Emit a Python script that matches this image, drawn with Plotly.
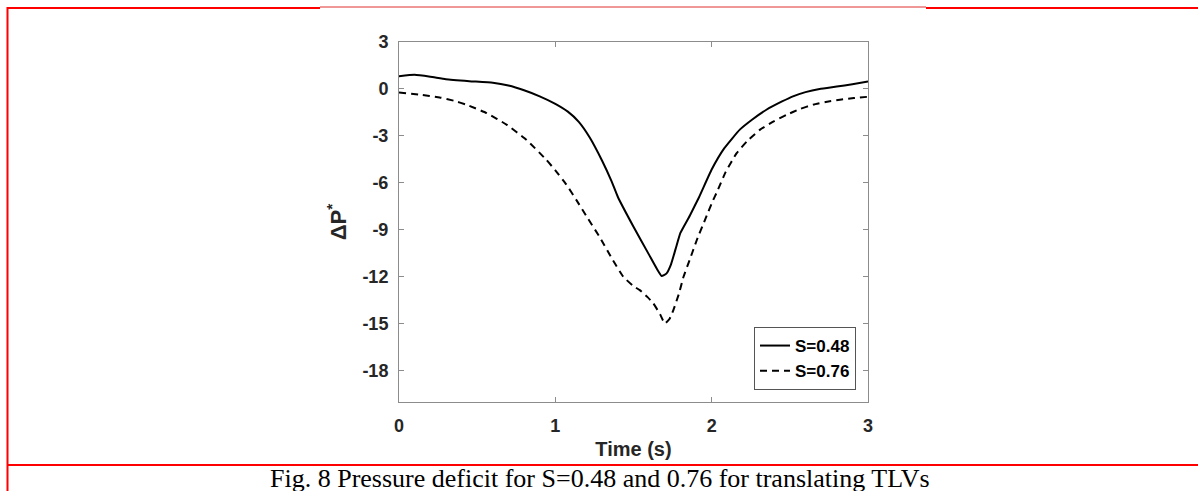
import plotly.graph_objects as go

# Pressure deficit time histories for two swirl numbers
time_s048 = [0.00, 0.10, 0.20, 0.30, 0.45, 0.60, 0.70, 0.80, 0.90, 1.00,
             1.08, 1.15, 1.22, 1.30, 1.36, 1.40, 1.50, 1.60, 1.65, 1.68,
             1.71, 1.74, 1.77, 1.80, 1.86, 1.92, 2.00, 2.08, 2.18, 2.26,
             2.35, 2.45, 2.52, 2.60, 2.69, 2.80, 2.90, 3.00]
dp_s048 = [0.81, 0.90, 0.78, 0.62, 0.50, 0.40, 0.22, -0.08, -0.47, -0.95,
           -1.45, -2.10, -3.10, -4.60, -5.90, -6.90, -8.80, -10.60, -11.50, -11.95,
           -11.80, -11.20, -10.20, -9.20, -8.10, -6.90, -5.15, -3.80, -2.60, -1.95,
           -1.33, -0.80, -0.47, -0.20, 0.00, 0.15, 0.30, 0.47]

time_s076 = [0.00, 0.13, 0.26, 0.35, 0.43, 0.56, 0.69, 0.815, 0.94, 1.00,
             1.07, 1.135, 1.21, 1.286, 1.36, 1.435, 1.50, 1.54, 1.59, 1.627,
             1.67, 1.70, 1.73, 1.755, 1.79, 1.82, 1.86, 1.905, 1.96, 2.01,
             2.03, 2.09, 2.16, 2.23, 2.31, 2.40, 2.48, 2.56, 2.65, 2.73,
             2.82, 2.91, 3.00]
dp_s076 = [-0.22, -0.36, -0.54, -0.75, -1.00, -1.54, -2.29, -3.25, -4.50, -5.20,
           -6.10, -7.10, -8.30, -9.50, -10.80, -12.00, -12.60, -12.85, -13.30, -13.70,
           -14.40, -14.98, -14.70, -14.13, -13.10, -12.00, -10.90, -9.65, -8.30, -7.09,
           -6.66, -5.30, -4.10, -3.30, -2.60, -2.05, -1.65, -1.30, -1.00, -0.83,
           -0.69, -0.58, -0.50]

x_ticks = [0, 1, 2, 3]
y_ticks = [3, 0, -3, -6, -9, -12, -15, -18]
y_tick_text = [str(v) for v in y_ticks]

series_names = ["S=0.48", "S=0.76"]
caption = "Fig. 8 Pressure deficit for S=0.48 and 0.76 for translating TLVs"

# Page and plot-area geometry (pixels)
W, H = 1198, 491
L, R, T, B = 399, 868, 42, 402
PW, PH = R - L, B - T


def fx(p):
    return (p - L) / PW


def fy(p):
    return (B - p) / PH


AX = "#8c8c8c"
TXT = "#262626"
SANS = "Liberation Sans, Arial, sans-serif"

fig = go.Figure()
fig.add_trace(go.Scatter(x=time_s048, y=dp_s048, mode="lines", name=series_names[0],
                         line=dict(color="black", width=2, shape="spline", smoothing=0.4)))
fig.add_trace(go.Scatter(x=time_s076, y=dp_s076, mode="lines", name=series_names[1],
                         line=dict(color="black", width=2, dash="7px,5px",
                                   shape="spline", smoothing=0.4)))

axis_common = dict(showline=True, linecolor=AX, linewidth=1, mirror="allticks",
                   ticks="inside", ticklen=5, tickcolor=AX, tickwidth=1,
                   showgrid=False, zeroline=False,
                   tickfont=dict(family=SANS, size=18, color=TXT, weight="bold"))

fig.update_xaxes(range=[0, 3], tickvals=x_ticks, ticklabelstandoff=7,
                 title=dict(text="Time (s)", standoff=7,
                            font=dict(family=SANS, size=20, color=TXT, weight="bold")),
                 **axis_common)
fig.update_yaxes(range=[-20, 3], tickvals=y_ticks, ticktext=y_tick_text, ticklabelstandoff=6,
                 title=dict(text="ΔP<sup>*</sup>", standoff=9,
                            font=dict(family=SANS, size=22, color=TXT, weight="bold")),
                 **axis_common)

# Red figure frame
red = "#ff0000"
shapes = [
    dict(type="line", x0=fx(7), x1=fx(320), y0=fy(8), y1=fy(8), line=dict(color=red, width=2)),
    dict(type="line", x0=fx(320), x1=fx(926), y0=fy(7), y1=fy(7), line=dict(color="#e03030", width=1)),
    dict(type="line", x0=fx(926), x1=fx(1198), y0=fy(8), y1=fy(8), line=dict(color=red, width=2)),
    dict(type="line", x0=fx(7.5), x1=fx(7.5), y0=fy(7), y1=fy(491), line=dict(color=red, width=2)),
    dict(type="line", x0=fx(7), x1=fx(1198), y0=fy(465), y1=fy(465), line=dict(color=red, width=2)),
]
for s in shapes:
    s.update(xref="paper", yref="paper", layer="above")

fig.update_layout(
    width=W, height=H,
    margin=dict(l=L, r=W - R, t=T, b=H - B, autoexpand=False),
    paper_bgcolor="white", plot_bgcolor="white",
    showlegend=True,
    legend=dict(x=fx(856), y=fy(390), xanchor="right", yanchor="bottom",
                bgcolor="white", bordercolor="#555555", borderwidth=1,
                font=dict(family=SANS, size=17, color="black", weight="bold"),
                tracegroupgap=0, itemwidth=30),
    shapes=shapes,
    annotations=[dict(text=caption, xref="paper", yref="paper", x=fx(600), y=fy(479),
                      xanchor="center", yanchor="middle", showarrow=False,
                      font=dict(family="Liberation Serif, Times New Roman, serif", size=26, color="black"))],
)

fig.write_html("out.html")
